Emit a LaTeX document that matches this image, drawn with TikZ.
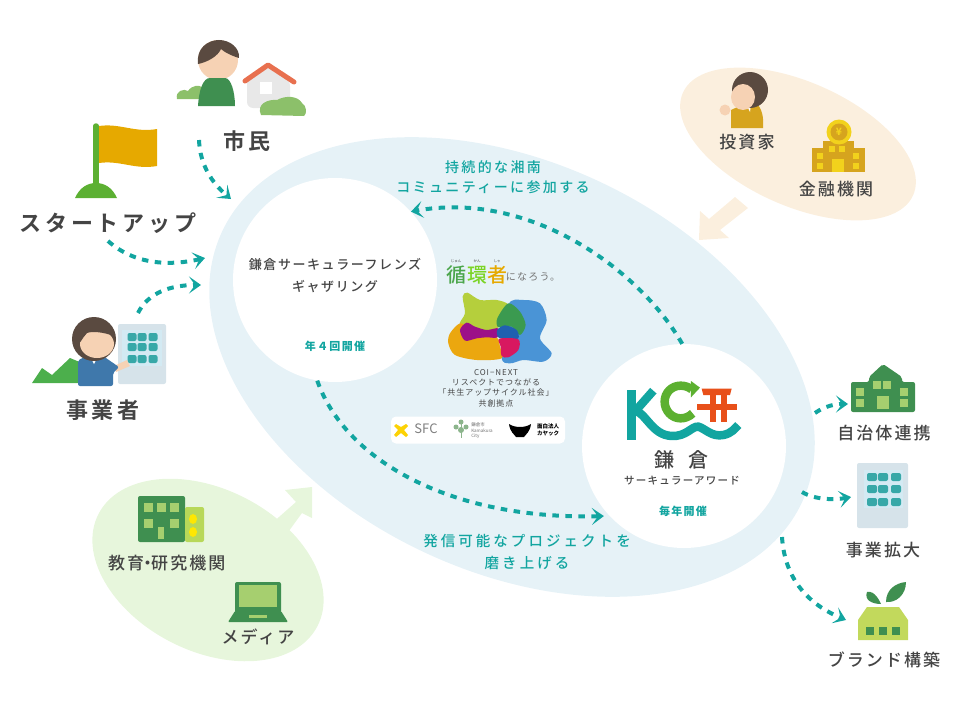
\documentclass[tikz,border=0pt]{standalone}
\usepackage{fontspec}
\setmainfont{Noto Sans CJK JP}
\newfontfamily\jpwide[LetterSpace=12]{Noto Sans CJK JP}
\newfontfamily\jpflow[LetterSpace=17]{Noto Sans CJK JP Medium}
\newfontfamily\jppolish[LetterSpace=21]{Noto Sans CJK JP Medium}
\newfontfamily\jplabel[LetterSpace=12]{Noto Sans CJK JP Medium}
\newfontfamily\jphead[LetterSpace=17]{Noto Sans CJK JP Bold}
\usetikzlibrary{arrows.meta,shapes.geometric}
\definecolor{loopblue}{HTML}{E6F2F7}
\definecolor{paleorange}{HTML}{FBEFDE}
\definecolor{palegreen}{HTML}{E7F6DC}
\definecolor{flowteal}{HTML}{12A5A0}
\definecolor{textgray}{HTML}{444444}
\definecolor{leaf}{HTML}{3F8F50}
\definecolor{leaflight}{HTML}{A6CF6F}
\definecolor{bush}{HTML}{8CC06A}
\definecolor{hair}{HTML}{5A4A40}
\definecolor{skin}{HTML}{F6D2B4}
\definecolor{mustard}{HTML}{D6A41E}
\definecolor{gold}{HTML}{F2D21C}
\definecolor{wallblue}{HTML}{D6E3EA}
\definecolor{windowsky}{HTML}{D3EAF3}
\definecolor{winteal}{HTML}{37A8A8}
\definecolor{flaggold}{HTML}{E6A900}
\definecolor{polegreen}{HTML}{5CB032}
\definecolor{suitblue}{HTML}{3F78AB}
\definecolor{roofred}{HTML}{E8704F}
\definecolor{toriired}{HTML}{E8501A}
\definecolor{ringgreen}{HTML}{5CB030}
\definecolor{olive}{HTML}{C2D95C}
\definecolor{blobblue}{HTML}{4A94D6}
\definecolor{blobolive}{HTML}{B5CF3C}
\definecolor{bloborange}{HTML}{EBA70F}
\definecolor{blobgreen}{HTML}{3B9A50}
\definecolor{blobpurple}{HTML}{9C1088}
\definecolor{blobnavy}{HTML}{2060B0}
\definecolor{blobred}{HTML}{D81860}
\tikzset{
	flow/.style = {flowteal,line width=4pt,dash pattern=on 6.5pt off 6.5pt,-{Stealth[length=12pt,width=17pt,inset=6pt]}},
	bigtitle/.style = {textgray,font=\fontsize{22}{24}\jphead},
	itemlabel/.style = {textgray,font=\fontsize{17}{20}\jplabel},
	flowlabel/.style = {flowteal,align=center,font=\fontsize{14}{20}\jpflow},
	polishlabel/.style = {flowteal,align=center,font=\fontsize{14.5}{22}\jppolish},
	holdtext/.style = {flowteal,font=\fontsize{11}{13}\bfseries\jpwide},
	bubble/.style = {ellipse,inner sep=0pt},
	hub/.style = {circle,fill=white,inner sep=0pt,minimum size=204pt},
	rubytext/.style = {textgray,font=\fontsize{3.5}{4}\selectfont}
}
\begin{document}
\begin{tikzpicture}[x=1pt,y=-1pt]
	\useasboundingbox (0,0) rectangle (955,709);

	\node[bubble,fill=loopblue,rotate=-25,minimum width=640pt,minimum height=410pt] (loop) at (512,367) {};
	\node[hub] (friends) at (335,280) {};
	\node[hub] (award) at (684,446) {};

	% investors
	\fill[paleorange] (699,240) -- (700,211) -- (709,219) -- (735,197) -- (748,208) -- (720,230) -- (729,238) -- cycle;
	\node[bubble,fill=paleorange,rotate=-24,minimum width=252pt,minimum height=124pt] (money) at (798,144) {};
	\fill[mustard] (731,128) -- (731,110) -- (746,103) -- (756,103) .. controls (762,108) and (764,118) .. (763,128) -- cycle;
	\fill[white] (746,104) -- (750,112) -- (751,104) -- cycle;
	\fill[hair] (750,90) circle (18);
	\fill[skin] (743,97) ellipse (12 and 13);
	\fill[skin] (725,110) circle (5.5);
	\node[itemlabel] (investor) at (747,142) {投資家};
	\fill[mustard] (812,148) rectangle (865,172);
	\fill[mustard] (823,141) rectangle (854,150);
	\fill[gold] (839,132) circle (12.5);
	\fill[mustard] (839,132) circle (8.5);
	\node[gold,font=\fontsize{10}{10}\bfseries] (yen) at (839,132) {¥};
	\foreach \x/\y in {820/156,820/166,856/156,856/166,832/149,842/149}
		\fill[gold] (\x-3,\y-3) rectangle ++(6,6);
	\fill[gold] (832,159) rectangle ++(12,13);
	\node[itemlabel] (bank) at (836,189) {金融機関};

	% education and media
	\fill[palegreen] (312,487) -- (285,490) -- (296,502) -- (262,532) -- (278,546) -- (302,513) -- (312,518) -- cycle;
	\node[bubble,fill=palegreen,rotate=-27,minimum width=246pt,minimum height=162pt] (reach) at (208,570) {};
	\fill[leaf,rounded corners=2pt] (138,542) -- (138,496) -- (185,496) -- (185,542) -- cycle;
	\fill[leaflight!80!yellow,rounded corners=2pt] (185,507) rectangle (204,542);
	\fill[yellow!90!orange] (193,519) ellipse (4 and 5);
	\fill[yellow!90!orange] (193,532) ellipse (4 and 5);
	\foreach \x/\y in {148/507,161/507,174/507,148/523,174/523}
		\fill[leaflight] (\x-4.5,\y-4.5) rectangle ++(9,9);
	\fill[leaflight] (158,527) rectangle ++(6,12);
	\node[itemlabel,anchor=west,inner sep=0pt] (school) at (108,563) {教育\hspace{-5pt}・\hspace{-5pt}研究機関};
	\fill[palegreen] (230,553) rectangle (250,575);
	\fill[leaf,rounded corners=2pt] (235,582) rectangle (281,613);
	\fill[leaflight] (239,585) rectangle (277,607);
	\fill[leaf,rounded corners=1pt] (228,622) -- (235,611) -- (281,611) -- (288,622) -- cycle;
	\fill[leaflight] (249,615) rectangle ++(18,2.5);
	\node[itemlabel] (media) at (258,637) {メディア};

	% citizen
	\fill[bush] (177,99) .. controls (175,91) and (184,88) .. (188,91) .. controls (192,85) and (199,85) .. (202,87) -- (202,99) -- cycle;
	\fill[skin] (218,60) circle (20);
	\fill[hair] (198,64) .. controls (196,48) and (208,40) .. (219,40) .. controls (230,40) and (240,48) .. (239,58) .. controls (232,56) and (224,52) .. (221,49) .. controls (218,56) and (208,62) .. (198,64) -- cycle;
	\fill[leaf] (198,106) .. controls (199,90) and (203,78) .. (210,78) -- (225,78) .. controls (231,78) and (235,92) .. (235,106) -- cycle;
	\fill[black!9,rounded corners=6pt] (247,108) -- (247,78) -- (268,66) -- (290,80) -- (290,108) -- cycle;
	\fill[white] (260,82) rectangle ++(12,12);
	\draw[roofred,line width=5pt,line cap=round,line join=round] (245,81) -- (268,65) -- (294,82);
	\fill[bush] (261,115) .. controls (256,104) and (268,99) .. (277,100) .. controls (286,95) and (298,96) .. (302,103) .. controls (307,106) and (307,114) .. (304,116) -- cycle;
	\node[bigtitle] (citizen) at (247,141) {市民};

	% startup
	\fill[flaggold] (99,126) .. controls (120,123) and (135,133) .. (157,129) -- (157,166) .. controls (135,170) and (120,160) .. (99,163) -- cycle;
	\draw[polegreen,line width=5.5pt,line cap=round] (96,126) -- (96,186);
	\fill[polegreen] (75,198) .. controls (80,187) and (88,183) .. (96,183) .. controls (104,183) and (112,187) .. (117,198) -- cycle;
	\node[bigtitle] (startup) at (108,223) {スタートアップ};

	% business
	\fill[wallblue,rounded corners=2pt] (118,324) rectangle (166,384);
	\fill[windowsky] (122,330) rectangle (162,366);
	\foreach \x in {132,142,153}
		\foreach \y in {337,347,359}
			\fill[winteal,rounded corners=2pt] (\x-4.5,\y-4) rectangle ++(9,8);
	\fill[green!55!black!70!white] (32,383) -- (42,368) -- (52,375) -- (70,358) -- (82,363) -- (82,383) -- cycle;
	\fill[skin] (114,366) -- (127,360) -- (130,366) -- (116,372) -- cycle;
	\fill[suitblue,rounded corners=2pt] (78,386) -- (78,360) -- (90,355) -- (103,356) -- (119,367) -- (113,373) -- (113,386) -- cycle;
	\fill[white] (90,356) -- (94,364) -- (98,356) -- cycle;
	\fill[hair] (94,339) ellipse (22 and 22);
	\fill[skin] (97,344) ellipse (17 and 14);
	\fill[hair] (76,345) .. controls (78,325) and (104,320) .. (114,336) .. controls (103,332) and (92,331) .. (87,333) .. controls (82,338) and (80,345) .. (76,345) -- cycle;
	\node[bigtitle] (owner) at (103,410) {事業者};

	% hubs
	\node[textgray,align=center,font=\fontsize{13}{22}\jplabel] (friendsname) at (335,276) {鎌倉サーキュラーフレンズ\\ギャザリング};
	\node[holdtext] (friendstimes) at (335,346) {年４回開催};
	\node[textgray,font=\fontsize{20}{21}\jplabel] (awardplace) at (681,460) {鎌\hspace{14pt}倉};
	\node[textgray,font=\fontsize{10.5}{12}\jplabel] (awardname) at (682,481) {サーキュラーアワード};
	\node[holdtext] (awardtimes) at (683,511) {毎年開催};

	% award mark
	\begin{scope}[shift={(590,350)},x=0.3333pt,y=-0.3333pt]
		\draw[flowteal,line width=8.5pt] (125,270) -- (125,120);
		\draw[flowteal,line width=8.5pt] (130,190) -- (190,122);
		\draw[flowteal,line width=8.5pt] (130,178) .. controls (170,190) and (185,255) .. (245,258) .. controls (290,260) and (305,228) .. (325,230) .. controls (345,235) and (365,262) .. (400,255) .. controls (425,250) and (435,235) .. (445,225);
		\draw[ringgreen,line width=8.5pt] (308,190) .. controls (298,200) and (285,205) .. (272,205) .. controls (245,205) and (224,182) .. (224,155) .. controls (224,128) and (245,107) .. (272,107) .. controls (285,107) and (296,111) .. (305,118);
		\fill[ringgreen] (303,93) -- (330,113) -- (303,142) -- cycle;
		\fill[toriired] (335,116) -- (425,116) -- (420,135) -- (340,135) -- cycle;
		\fill[toriired] (320,162) -- (440,162) -- (440,180) -- (320,180) -- cycle;
		\fill[toriired] (361,135) rectangle (378,215);
		\fill[toriired] (394,135) rectangle (412,215);
	\end{scope}

	% centre mark
	\node[rubytext] (rubya) at (456,261) {じゅん};
	\node[rubytext] (rubyb) at (477,261) {かん};
	\node[rubytext] (rubyc) at (497,261) {しゃ};
	\node[green!50!black!70!white,font=\fontsize{20}{22}\jplabel] (cyclea) at (456,275) {循};
	\node[lime!65!green!80!black!85!white,font=\fontsize{20}{22}\jplabel] (cycleb) at (477,275) {環};
	\node[flaggold,font=\fontsize{20}{22}\jplabel] (cyclec) at (497,275) {者};
	\node[black!55,font=\fontsize{10}{11}\jpwide] (cycled) at (533,277) {になろう。};
	\begin{scope}[shift={(380,250)},x=0.3333pt,y=-0.3333pt]
		\fill[blobblue] plot[smooth cycle] coordinates {(385,165) (430,150) (480,160) (500,210) (480,265) (515,310) (490,335) (430,330) (390,340) (365,320)};
		\fill[blobolive] plot[smooth cycle] coordinates {(248,140) (262,128) (300,150) (350,150) (385,165) (360,205) (350,240) (300,245) (240,225) (255,190)};
		\fill[bloborange] plot[smooth cycle] coordinates {(240,220) (210,250) (205,280) (225,315) (290,330) (365,325) (360,290) (350,262) (300,245) (270,235)};
		\fill[blobgreen] plot[smooth cycle] coordinates {(385,160) (420,185) (437,225) (420,255) (395,230) (355,232) (352,205)};
		\fill[blobpurple] plot[smooth cycle] coordinates {(240,240) (260,218) (285,230) (320,240) (355,235) (352,262) (320,262) (290,265) (255,272)};
		\fill[blobnavy] plot[smooth cycle] coordinates {(352,240) (375,226) (410,240) (415,265) (385,268) (355,262)};
		\fill[blobred] plot[smooth cycle] coordinates {(358,266) (415,268) (415,300) (385,322) (365,318) (362,290)};
	\end{scope}
	\node[textgray,align=center,font=\fontsize{8}{10.4}\jpwide] (coinext) at (496,388) {COI−NEXT\\リスペクトでつながる\\「共生アップサイクル社会」\\共創拠点};
	\node[fill=white,rounded corners=5pt,inner sep=0pt,minimum width=174pt,minimum height=27pt] (sponsors) at (478,430) {};
	\fill[yellow!70!orange] (396,424) -- (401,427) -- (406,424) -- (408,426) -- (404,430) -- (408,435) -- (406,437) -- (401,433) -- (396,437) -- (394,435) -- (398,430) -- (394,426) -- cycle;
	\node[black!50,font=\fontsize{13}{13}\selectfont] (sfc) at (426,429) {SFC};
	\fill[green!35!black!45!white] (461,422) circle (2.5) (456,427) circle (2.5) (466,427) circle (2.5) (461,430) circle (3);
	\draw[green!35!black!45!white,line width=1pt] (461,422) -- (461,438);
	\node[black!55,align=left,font=\fontsize{4.5}{5.5}\selectfont] (kamakura) at (482,431) {鎌倉市\\Kamakura\\City};
	\fill[black] (509,424) .. controls (515,428) and (525,428) .. (531,424) .. controls (530,432) and (526,434) .. (524,437) -- (516,437) .. controls (514,434) and (510,432) .. (509,424) -- cycle;
	\node[black,align=left,font=\fontsize{5.5}{6.5}\bfseries] (kayac) at (548,430) {面白法人\\カヤック};

	% labels on the loop
	\node[flowlabel] (joinlabel) at (493,177) {持続的な湘南\\コミュニティーに参加する};
	\node[polishlabel] (polishname) at (527,552) {発信可能なプロジェクトを\\磨き上げる};

	% outcomes
	\fill[leaf,rounded corners=2pt] (851,412) -- (851,382) -- (869,382) -- (869,377) -- (883,364) -- (902,377) -- (902,382) -- (915,382) -- (915,412) -- cycle;
	\foreach \x/\y in {860/392,860/403,904/392,904/403,877/385,887/385}
		\fill[leaflight] (\x-4,\y-4) rectangle ++(8,8);
	\fill[leaflight] (877,396) rectangle ++(12,13);
	\node[itemlabel] (city) at (884,433) {自治体連携};
	\fill[wallblue,rounded corners=2pt] (857,463) rectangle (908,528);
	\fill[windowsky] (864,470) rectangle (903,508);
	\foreach \x in {872,883,896}
		\foreach \y in {477,489,502}
			\fill[winteal,rounded corners=2pt] (\x-5,\y-4) rectangle ++(10,8);
	\node[itemlabel] (growth) at (883,550) {事業拡大};
	\fill[leaf] (867,592) .. controls (875,590) and (880,602) .. (881,604) .. controls (872,604) and (864,600) .. (867,592) -- cycle;
	\fill[leaf] (886,602) .. controls (886,590) and (895,583) .. (906,582) .. controls (906,595) and (896,603) .. (886,602) -- cycle;
	\fill[olive] (858,640) -- (858,620) -- (867,607) -- (899,607) -- (908,620) -- (908,640) -- cycle;
	\foreach \x in {870,883,896}
		\fill[leaf] (\x-4,627) rectangle ++(8,8);
	\node[itemlabel] (brand) at (884,660) {ブランド構築};

	% flows
	\coordinate (citizenout) at (199,140);
	\coordinate (citizenin) at (231,199);
	\coordinate (startupout) at (108,241);
	\coordinate (startupin) at (205,258);
	\coordinate (ownerout) at (138,313);
	\coordinate (ownerin) at (201,285);
	\coordinate (awardouta) at (815,413);
	\coordinate (cityin) at (848,404);
	\coordinate (awardoutb) at (802,492);
	\coordinate (growthin) at (851,497);
	\coordinate (awardoutc) at (782,537);
	\coordinate (brandin) at (846,620);
	\draw[flow] (citizenout) .. controls (200,165) and (212,183) .. (citizenin);
	\draw[flow] (startupout) .. controls (135,265) and (170,266) .. (startupin);
	\draw[flow] (ownerout) .. controls (148,293) and (170,285) .. (ownerin);
	\draw[flow] (friends.260) .. controls (345,460) and (450,520) .. ([shift={(-3,3)}]award.221);
	\draw[flow] (award.91) .. controls (640,270) and (530,190) .. (friends.42);
	\draw[flow] (awardouta) .. controls (825,406) and (835,404) .. (cityin);
	\draw[flow] (awardoutb) .. controls (815,500) and (835,500) .. (growthin);
	\draw[flow] (awardoutc) .. controls (785,585) and (815,607) .. (brandin);
\end{tikzpicture}
\end{document}
